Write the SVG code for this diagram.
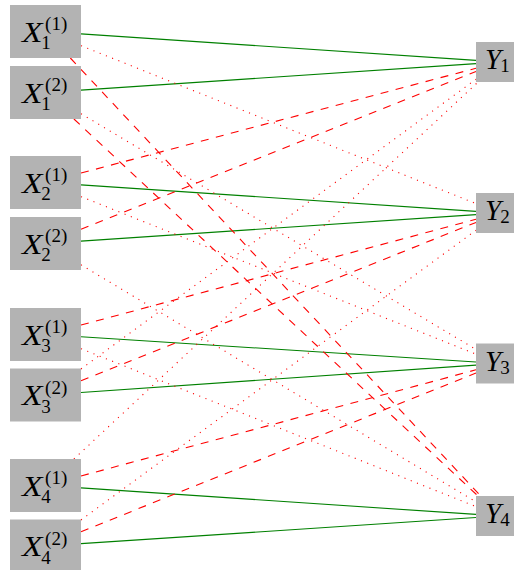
<svg xmlns="http://www.w3.org/2000/svg" width="514" height="570" viewBox="0 0 514 570">
<style>
  .box { fill: #b3b3b3; stroke: none; }
  .v { font-family: "Liberation Serif", "Times New Roman", serif; font-style: italic; font-size: 29px; fill: #000; }
  .s { font-family: "Liberation Serif", "Times New Roman", serif; font-size: 19px; fill: #000; }
  .g { stroke: #008000; stroke-width: 1.1; fill: none; }
  .d { stroke: #ff0000; stroke-width: 1.1; fill: none; stroke-dasharray: 8 7.5; }
  .o { stroke: #ff0000; stroke-width: 1.1; fill: none; stroke-dasharray: 1.1 5.6; }
</style>
<rect width="514" height="570" fill="#ffffff"/>
<g id="connectors">
  <line class="g" x1="81" y1="33.88" x2="476" y2="60.42"/>
  <line class="g" x1="81" y1="90.12" x2="476" y2="63.58"/>
  <line class="g" x1="81" y1="184.88" x2="476" y2="211.42"/>
  <line class="g" x1="81" y1="241.12" x2="476" y2="214.58"/>
  <line class="g" x1="81" y1="336.77" x2="476" y2="362.0"/>
  <line class="g" x1="81" y1="392.54" x2="476" y2="365.13"/>
  <line class="g" x1="81" y1="487.88" x2="476" y2="514.42"/>
  <line class="g" x1="81" y1="543.65" x2="476" y2="517.55"/>

  <line class="d" x1="81" y1="173.08" x2="476" y2="68.24"/>
  <line class="d" x1="81" y1="229.31" x2="476" y2="71.39"/>
  <line class="d" x1="81" y1="325.0" x2="476" y2="219.29"/>
  <line class="d" x1="81" y1="380.77" x2="476" y2="222.42"/>
  <line class="d" x1="81" y1="475.96" x2="476" y2="369.82"/>
  <line class="d" x1="81" y1="531.73" x2="476" y2="372.95"/>
  <line class="d" x1="70.33" y1="58" x2="480.76" y2="496"/>
  <line class="d" x1="73.91" y1="119" x2="478.06" y2="496"/>

  <line class="o" x1="81" y1="45.69" x2="476" y2="203.61"/>
  <line class="o" x1="81" y1="113.69" x2="476" y2="349.47"/>
  <line class="o" x1="81" y1="196.65" x2="476" y2="354.13"/>
  <line class="o" x1="81" y1="264.81" x2="476" y2="501.89"/>
  <line class="o" x1="81" y1="348.69" x2="476" y2="506.61"/>
  <line class="o" x1="81" y1="368.96" x2="476" y2="79.24"/>
  <line class="o" x1="73.91" y1="459" x2="478.06" y2="82"/>
  <line class="o" x1="81" y1="519.96" x2="476" y2="230.24"/>
</g>

<g id="X1_1"><rect class="box" x="10" y="5" width="71" height="53"/><text class="v" x="22" y="41.7" textLength="20.5" lengthAdjust="spacingAndGlyphs">X</text><text class="s" x="41.2" y="49">1</text><text class="s" x="45.1" y="30">(1)</text></g>
<g id="X1_2"><rect class="box" x="10" y="66" width="71" height="53"/><text class="v" x="22" y="102.7" textLength="20.5" lengthAdjust="spacingAndGlyphs">X</text><text class="s" x="41.2" y="110">1</text><text class="s" x="45.1" y="91">(2)</text></g>
<g id="X2_1"><rect class="box" x="10" y="156" width="71" height="53"/><text class="v" x="22" y="192.7" textLength="20.5" lengthAdjust="spacingAndGlyphs">X</text><text class="s" x="41.2" y="200">2</text><text class="s" x="45.1" y="181">(1)</text></g>
<g id="X2_2"><rect class="box" x="10" y="217" width="71" height="53"/><text class="v" x="22" y="253.7" textLength="20.5" lengthAdjust="spacingAndGlyphs">X</text><text class="s" x="41.2" y="261">2</text><text class="s" x="45.1" y="242">(2)</text></g>
<g id="X3_1"><rect class="box" x="10" y="308" width="71" height="53"/><text class="v" x="22" y="344.7" textLength="20.5" lengthAdjust="spacingAndGlyphs">X</text><text class="s" x="41.2" y="352">3</text><text class="s" x="45.1" y="333">(1)</text></g>
<g id="X3_2"><rect class="box" x="10" y="368.5" width="71" height="53"/><text class="v" x="22" y="405.2" textLength="20.5" lengthAdjust="spacingAndGlyphs">X</text><text class="s" x="41.2" y="412.5">3</text><text class="s" x="45.1" y="393.5">(2)</text></g>
<g id="X4_1"><rect class="box" x="10" y="459" width="71" height="53"/><text class="v" x="22" y="495.7" textLength="20.5" lengthAdjust="spacingAndGlyphs">X</text><text class="s" x="41.2" y="503">4</text><text class="s" x="45.1" y="484">(1)</text></g>
<g id="X4_2"><rect class="box" x="10" y="519.5" width="71" height="53"/><text class="v" x="22" y="556.2" textLength="20.5" lengthAdjust="spacingAndGlyphs">X</text><text class="s" x="41.2" y="563.5">4</text><text class="s" x="45.1" y="544.5">(2)</text></g>

<g id="Y1"><rect class="box" x="476" y="42" width="47" height="40"/><text class="v" x="485" y="69.3">Y</text><text class="s" x="500.2" y="72.3">1</text></g>
<g id="Y2"><rect class="box" x="476" y="193" width="47" height="40"/><text class="v" x="485" y="220.3">Y</text><text class="s" x="500.2" y="223.3">2</text></g>
<g id="Y3"><rect class="box" x="476" y="343.5" width="47" height="40"/><text class="v" x="485" y="370.8">Y</text><text class="s" x="500.2" y="373.8">3</text></g>
<g id="Y4"><rect class="box" x="476" y="496" width="47" height="40"/><text class="v" x="485" y="523.3">Y</text><text class="s" x="500.2" y="526.3">4</text></g>
</svg>
